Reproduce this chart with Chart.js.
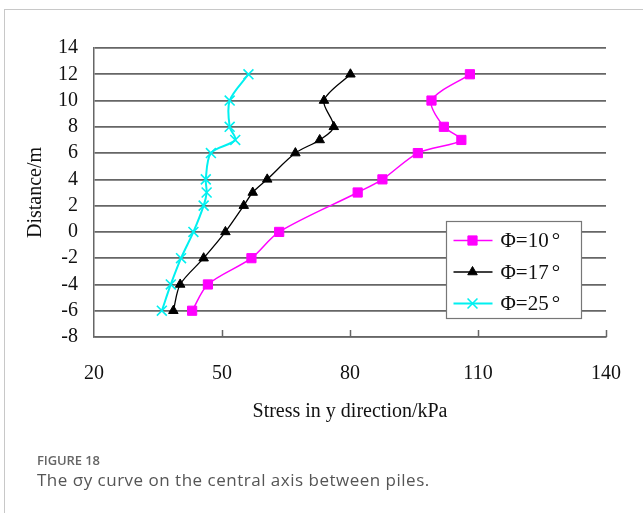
<!DOCTYPE html>
<html>
<head>
<meta charset="utf-8">
<script src="https://cdn.jsdelivr.net/npm/chart.js@4"></script>
<style>
  html, body { margin: 0; padding: 0; background: #fff; }
  body { width: 643px; height: 513px; position: relative; overflow: hidden; }
  #frame { position: absolute; left: 4px; top: 9px; width: 700px; height: 600px;
           border-left: 1px solid #c8c8c8; border-top: 1px solid #c8c8c8; }
  #wrap { position: absolute; left: 0; top: 0; width: 643px; height: 513px; }
  #figno { position: absolute; left: 37px; top: 451px; font: 600 13px "Open Sans", sans-serif; color: #666; letter-spacing: -0.1px; }
  #caption { position: absolute; left: 37px; top: 468px; font: 17px "Open Sans", sans-serif; color: #555; letter-spacing: 0.5px; }
</style>
</head>
<body>
<div id="frame"></div>
<div id="wrap"><canvas id="sigmaChart" width="643" height="513"></canvas></div>
<div id="figno">FIGURE 18</div>
<div id="caption">The σy curve on the central axis between piles.</div>
<script>
// sigma-y along the central axis between piles, three friction angles
const depth10 = [12, 10, 8, 7, 6, 4, 3, 0, -2, -4, -6];
const stress10 = [108.1, 99.1, 102.0, 106.1, 95.9, 87.6, 81.8, 63.4, 56.9, 46.7, 43.0];

const depth17 = [12, 10, 8, 7, 6, 4, 3, 2, 0, -2, -4, -6];
const stress17 = [80.1, 73.9, 76.2, 72.9, 67.2, 60.6, 57.2, 55.1, 50.8, 45.7, 40.2, 38.6];

const depth25 = [12, 10, 8, 7, 6, 4, 3, 2, 0, -2, -4, -6];
const stress25 = [56.2, 51.8, 51.8, 53.1, 47.4, 46.2, 46.4, 45.7, 43.3, 40.4, 38.0, 35.9];

const seriesLabels = ['Φ=10°', 'Φ=17°', 'Φ=25°'];
const xTicks = [20, 50, 80, 110, 140];
const yTicks = [-8, -6, -4, -2, 0, 2, 4, 6, 8, 10, 12, 14];

const serif = '"Liberation Serif", "Times New Roman", serif';

function pairs(xs, ys) {
  return xs.map((x, i) => ({ x: x, y: ys[i] }));
}

// inward tick marks on the bottom axis + boxed legend inside the plot
const extras = {
  id: 'extras',
  afterDraw(chart) {
    const ctx = chart.ctx;
    const area = chart.chartArea;
    const xs = chart.scales.x;

    ctx.save();
    ctx.strokeStyle = '#666';
    ctx.lineWidth = 1.5;
    xTicks.slice(1).forEach(v => {
      const px = Math.round(xs.getPixelForValue(v)) + 0.5;
      ctx.beginPath();
      ctx.moveTo(px, area.bottom);
      ctx.lineTo(px, area.bottom - 7);
      ctx.stroke();
    });

    // legend box
    const bw = 135, bh = 97;
    const bx = area.right - 25 - bw + 0.5;
    const by = area.top + 173 + 0.5;
    ctx.fillStyle = '#fff';
    ctx.fillRect(bx, by, bw, bh);
    ctx.strokeStyle = '#777';
    ctx.lineWidth = 1.2;
    ctx.strokeRect(bx, by, bw, bh);

    chart.data.datasets.forEach((ds, i) => {
      const cy = by + 19 + i * 31.5;
      ctx.strokeStyle = ds.borderColor;
      ctx.lineWidth = ds.borderWidth;
      ctx.beginPath();
      ctx.moveTo(bx + 7, cy);
      ctx.lineTo(bx + 46, cy);
      ctx.stroke();
      ctx.fillStyle = ds.pointBackgroundColor;
      ctx.strokeStyle = ds.pointBorderColor;
      ctx.lineWidth = ds.pointBorderWidth;
      Chart.helpers.drawPoint(ctx, {
        pointStyle: ds.pointStyle,
        radius: ds.pointRadius,
        borderWidth: ds.pointBorderWidth,
        rotation: 0
      }, bx + 26, cy);
      // label text, with a little air before the degree sign
      ctx.fillStyle = '#111';
      ctx.font = '21px ' + serif;
      ctx.textBaseline = 'middle';
      ctx.textAlign = 'left';
      const main = ds.label.replace('°', '');
      ctx.fillText(main, bx + 54, cy + 1);
      ctx.fillText('°', bx + 54 + ctx.measureText(main).width + 3, cy + 1);
    });
    ctx.restore();
  }
};

const ctx = document.getElementById('sigmaChart').getContext('2d');
new Chart(ctx, {
  type: 'scatter',
  data: {
    datasets: [
      {
        label: seriesLabels[0],
        data: pairs(stress10, depth10),
        showLine: true,
        borderColor: '#ff00ff',
        borderWidth: 1.5,
        pointStyle: 'rect',
        pointRadius: 6.5,
        pointBackgroundColor: '#ff00ff',
        pointBorderColor: '#ff00ff',
        pointBorderWidth: 1,
        tension: 0.3
      },
      {
        label: seriesLabels[1],
        data: pairs(stress17, depth17),
        showLine: true,
        borderColor: '#000',
        borderWidth: 1.3,
        pointStyle: 'triangle',
        pointRadius: 5.5,
        pointBackgroundColor: '#000',
        pointBorderColor: '#000',
        pointBorderWidth: 1,
        tension: 0.3
      },
      {
        label: seriesLabels[2],
        data: pairs(stress25, depth25),
        showLine: true,
        borderColor: '#00f0f0',
        borderWidth: 2,
        pointStyle: 'crossRot',
        pointRadius: 7,
        pointBackgroundColor: '#00f0f0',
        pointBorderColor: '#00f0f0',
        pointBorderWidth: 1.6,
        tension: 0.3
      }
    ]
  },
  options: {
    responsive: false,
    animation: false,
    layout: { padding: { left: 0, top: 48, right: 37, bottom: 83 } },
    plugins: {
      legend: { display: false },
      tooltip: { enabled: false }
    },
    scales: {
      x: {
        type: 'linear',
        min: 20,
        max: 140,
        afterBuildTicks: s => { s.ticks = xTicks.map(v => ({ value: v })); },
        afterFit: s => { s.height = 93; },
        ticks: { font: { family: serif, size: 20 }, color: '#111', padding: 17, autoSkip: false, maxRotation: 0 },
        grid: { display: false },
        border: { display: true, color: '#666', width: 1.5 },
        title: {
          display: true,
          text: 'Stress in y direction/kPa',
          font: { family: serif, size: 20 },
          color: '#111',
          padding: { top: 0, bottom: 6 }
        }
      },
      y: {
        type: 'linear',
        min: -8,
        max: 14,
        afterBuildTicks: s => { s.ticks = yTicks.map(v => ({ value: v })); },
        afterFit: s => { s.width = 94; },
        ticks: { font: { family: serif, size: 20 }, color: '#111', padding: 16, autoSkip: false },
        grid: { color: '#666', lineWidth: 1.7, drawTicks: false },
        border: { display: true, color: '#666', width: 1.5 },
        title: {
          display: true,
          text: 'Distance/m',
          font: { family: serif, size: 20 },
          color: '#111',
          padding: { top: 24, bottom: 0 }
        }
      }
    }
  },
  plugins: [extras]
});
</script>
</body>
</html>
